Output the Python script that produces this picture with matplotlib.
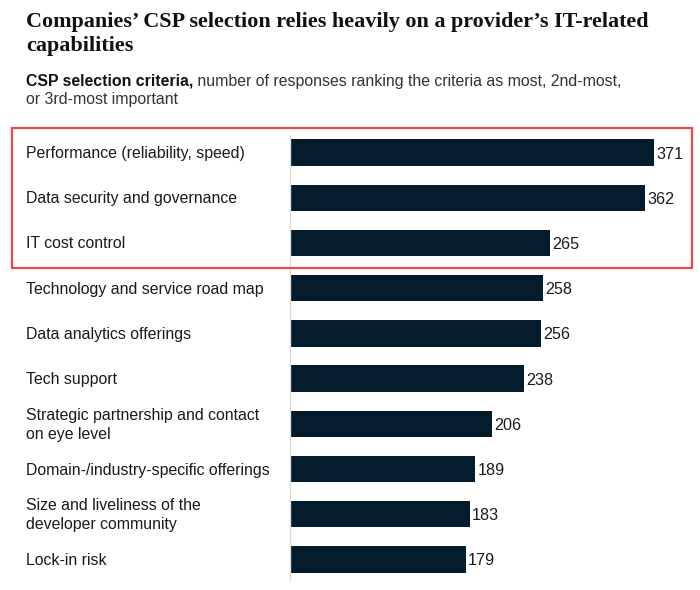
import matplotlib
matplotlib.use("Agg")
import matplotlib.pyplot as plt
from matplotlib.patches import Rectangle
from matplotlib.transforms import offset_copy

categories = [
    "Performance (reliability, speed)",
    "Data security and governance",
    "IT cost control",
    "Technology and service road map",
    "Data analytics offerings",
    "Tech support",
    "Strategic partnership and contact\non eye level",
    "Domain-/industry-specific offerings",
    "Size and liveliness of the\ndeveloper community",
    "Lock-in risk",
]
values = [371, 362, 265, 258, 256, 238, 206, 189, 183, 179]

title_lines = ["Companies\u2019 CSP selection relies heavily on a provider\u2019s IT-related",
               "capabilities"]
subtitle_bold = "CSP selection criteria,"
subtitle_rest = " number of responses ranking the criteria as most, 2nd-most,"
subtitle_line2 = "or 3rd-most important"

W, H = 700, 590
fig = plt.figure(figsize=(W / 100, H / 100), dpi=100)
fig.patch.set_facecolor("white")

def fx(px):
    return px / W

def fy(py):
    return 1 - py / H

bar_color = "#051c2c"
sans = ["Liberation Sans", "DejaVu Sans"]
serif = ["Liberation Serif", "DejaVu Serif"]

ax = fig.add_axes([fx(290), fy(582), fx(690) - fx(290), (582 - 130) / H])
y = list(range(len(categories)))
ax.barh(y, values, height=0.58, color=bar_color)
ax.set_xlim(0, 400 / (364 / 371))
ax.set_ylim(len(categories) - 0.5, -0.5)
ax.set_xticks([])
ax.set_yticks([])
for s in ["top", "right", "bottom"]:
    ax.spines[s].set_visible(False)
ax.spines["left"].set_color("#dddddd")
ax.spines["left"].set_linewidth(1.0)
ax.spines["left"].set_bounds(-0.4, 9.45)

# Category labels: x in axes px offset, y in data
lab_tr = offset_copy(ax.get_yaxis_transform(), fig=fig, x=-(290 - 26), y=-1.0, units="dots")
for yi, c in zip(y, categories):
    ax.text(0, yi, c, transform=lab_tr, ha="left", va="center",
            fontfamily=sans, fontsize=11.4, color="#1a1a1a", linespacing=1.38,
            clip_on=False)

val_tr = offset_copy(ax.transData, fig=fig, x=2.5, y=0, units="dots")
for yi, v in zip(y, values):
    ax.text(v, yi, str(v), transform=val_tr, ha="left", va="center_baseline",
            fontfamily=sans, fontsize=11.6, color="#1a1a1a")

# Titles
fig.text(fx(26), fy(27), title_lines[0], fontfamily=serif, fontweight="bold",
         fontsize=15.9, color="#111111", va="baseline", ha="left")
fig.text(fx(26), fy(51), title_lines[1], fontfamily=serif, fontweight="bold",
         fontsize=15.9, color="#111111", va="baseline", ha="left")

tb = fig.text(fx(26), fy(86), subtitle_bold, fontfamily=sans, fontweight="bold",
              fontsize=11.4, color="#111111", va="baseline", ha="left")
fig.canvas.draw()
bb = tb.get_window_extent(renderer=fig.canvas.get_renderer())
fig.text(bb.x1 / W, fy(86), subtitle_rest, fontfamily=sans,
         fontsize=11.4, color="#333333", va="baseline", ha="left")
fig.text(fx(26), fy(104), subtitle_line2, fontfamily=sans,
         fontsize=11.4, color="#333333", va="baseline", ha="left")

# Highlight box
rect = Rectangle((fx(12), fy(268)), fx(692) - fx(12), (268 - 128) / H,
                 transform=fig.transFigure, fill=False, edgecolor="#ef4a4a",
                 linewidth=1.6)
fig.add_artist(rect)

fig.savefig("out.png", dpi=100, facecolor="white")
